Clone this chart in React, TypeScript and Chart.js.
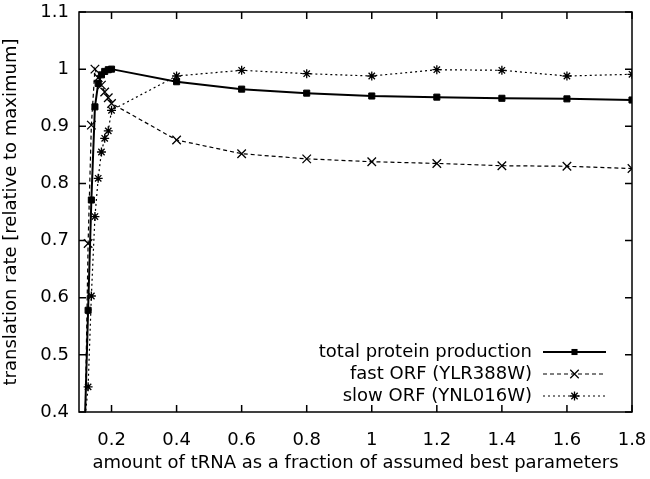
import React, { useEffect, useRef } from 'react';
import { Chart, registerables } from 'chart.js';

Chart.register(...registerables);

// ---- data ----
const xValues = [0.118, 0.128, 0.138, 0.149, 0.159, 0.169, 0.179, 0.19, 0.2, 0.4, 0.6, 0.8, 1.0, 1.2, 1.4, 1.6, 1.8];
const totalProduction = [0.38, 0.578, 0.771, 0.934, 0.975, 0.99, 0.996, 0.999, 1.0, 0.978, 0.965, 0.958, 0.953, 0.951, 0.949, 0.948, 0.946];
const fastOrf = [0.35, 0.695, 0.902, 1.0, 0.985, 0.972, 0.96, 0.95, 0.94, 0.876, 0.852, 0.843, 0.838, 0.835, 0.831, 0.83, 0.826];
const slowOrf = [0.385, 0.444, 0.603, 0.742, 0.809, 0.855, 0.879, 0.892, 0.928, 0.988, 0.998, 0.992, 0.988, 0.999, 0.998, 0.988, 0.991];
const seriesLabels = ['total protein production', 'fast ORF (YLR388W)', 'slow ORF (YNL016W)'];
const xTicks = [0.2, 0.4, 0.6, 0.8, 1.0, 1.2, 1.4, 1.6, 1.8];
const yTicks = [0.4, 0.5, 0.6, 0.7, 0.8, 0.9, 1.0, 1.1];
const xTitle = 'amount of tRNA as a fraction of assumed best parameters';
const yTitle = 'translation rate [relative to maximum]';

const FAMILY = '"DejaVu Sans", "Liberation Sans", sans-serif';
const FONT_SIZE = 18;

function drawMarker(ctx: CanvasRenderingContext2D, style: string, x: number, y: number, r: number) {
  ctx.beginPath();
  if (style === 'rect') {
    const s = r * Math.SQRT1_2;
    ctx.fillRect(x - s, y - s, 2 * s, 2 * s);
    return;
  }
  const d = r * Math.SQRT1_2;
  ctx.moveTo(x - d, y - d); ctx.lineTo(x + d, y + d);
  ctx.moveTo(x - d, y + d); ctx.lineTo(x + d, y - d);
  if (style === 'star') {
    ctx.moveTo(x - r, y); ctx.lineTo(x + r, y);
    ctx.moveTo(x, y - r); ctx.lineTo(x, y + r);
  }
  ctx.stroke();
}

const framePlugin = {
  id: 'gnuplotFrame',
  afterDraw(chart: any) {
    const { ctx, chartArea } = chart;
    const { left, right, top, bottom } = chartArea;
    const xs = chart.scales.x;
    const ys = chart.scales.y;
    const tl = 7;
    ctx.save();
    ctx.strokeStyle = '#000';
    ctx.lineWidth = 1.5;
    ctx.setLineDash([]);
    ctx.strokeRect(left, top, right - left, bottom - top);
    ctx.beginPath();
    xs.ticks.forEach((t: any) => {
      const px = xs.getPixelForValue(t.value);
      ctx.moveTo(px, bottom); ctx.lineTo(px, bottom - tl);
      ctx.moveTo(px, top); ctx.lineTo(px, top + tl);
    });
    ys.ticks.forEach((t: any) => {
      const py = ys.getPixelForValue(t.value);
      ctx.moveTo(left, py); ctx.lineTo(left + tl, py);
      ctx.moveTo(right, py); ctx.lineTo(right - tl, py);
    });
    ctx.stroke();

    // legend (inside the plot, bottom right, gnuplot style)
    ctx.font = `${FONT_SIZE}px ${FAMILY}`;
    ctx.textAlign = 'right';
    ctx.textBaseline = 'middle';
    ctx.fillStyle = '#000';
    const textRight = right - 100;
    const lineL = right - 89;
    const lineR = right - 26;
    const lineMid = (lineL + lineR) / 2;
    chart.data.datasets.forEach((ds: any, i: number) => {
      const y = bottom - 60 + i * 22;
      ctx.fillText(ds.label, textRight, y);
      ctx.lineWidth = ds.borderWidth;
      ctx.setLineDash(ds.borderDash || []);
      ctx.beginPath();
      ctx.moveTo(lineL, y); ctx.lineTo(lineR, y);
      ctx.stroke();
      ctx.setLineDash([]);
      ctx.lineWidth = ds.pointBorderWidth;
      drawMarker(ctx, ds.pointStyle, lineMid, y, ds.pointRadius);
    });
    ctx.restore();
  },
};

const fmt = (v: any) => String(+Number(v).toFixed(1));

export default function App() {
  const ref = useRef<HTMLCanvasElement>(null);
  useEffect(() => {
    const font = { family: FAMILY, size: FONT_SIZE };
    const chart = new Chart(ref.current as HTMLCanvasElement, {
      type: 'line',
      data: {
        datasets: [
          {
            label: seriesLabels[0],
            data: xValues.map((x, i) => ({ x, y: totalProduction[i] })),
            borderColor: '#000', backgroundColor: '#000', borderWidth: 2,
            pointStyle: 'rect', pointRadius: 4.3, pointBorderWidth: 1,
            pointBackgroundColor: '#000', pointBorderColor: '#000', clip: 0,
          },
          {
            label: seriesLabels[1],
            data: xValues.map((x, i) => ({ x, y: fastOrf[i] })),
            borderColor: '#000', backgroundColor: '#000', borderWidth: 1.2, borderDash: [4, 3],
            pointStyle: 'crossRot', pointRadius: 6, pointBorderWidth: 1.3,
            pointBorderColor: '#000', clip: 0,
          },
          {
            label: seriesLabels[2],
            data: xValues.map((x, i) => ({ x, y: slowOrf[i] })),
            borderColor: '#000', backgroundColor: '#000', borderWidth: 1.2, borderDash: [2, 3],
            pointStyle: 'star', pointRadius: 4.5, pointBorderWidth: 1.3,
            pointBorderColor: '#000', clip: 0,
          },
        ] as any,
      },
      options: {
        animation: false,
        responsive: false,
        layout: { padding: { top: 12, right: 18, left: 0, bottom: 0 } },
        plugins: { legend: { display: false }, tooltip: { enabled: false } },
        scales: {
          x: {
            type: 'linear', min: 0.1, max: 1.8,
            afterBuildTicks: (s: any) => { s.ticks = xTicks.map((v) => ({ value: v })); },
            afterFit: (s: any) => { s.height = 67; s.paddingLeft = 0; s.paddingRight = 0; },
            grid: { display: false }, border: { display: false },
            ticks: { color: '#000', font, padding: 10, maxRotation: 0, autoSkip: false, callback: fmt },
            title: { display: true, text: xTitle, color: '#000', font, padding: { top: 0, bottom: 5 } },
          },
          y: {
            type: 'linear', min: 0.4, max: 1.1,
            afterBuildTicks: (s: any) => { s.ticks = yTicks.map((v) => ({ value: v })); },
            afterFit: (s: any) => { s.width = 79; s.paddingTop = 0; s.paddingBottom = 0; },
            grid: { display: false }, border: { display: false },
            ticks: { color: '#000', font, padding: 2, autoSkip: false, callback: fmt },
            title: { display: true, text: yTitle, color: '#000', font, padding: { top: 1, bottom: 0 } },
          },
        },
      } as any,
      plugins: [framePlugin],
    });
    return () => chart.destroy();
  }, []);
  return (
    <div style={{ position: 'absolute', left: 0, top: 0, width: 650, height: 479, background: '#fff' }}>
      <canvas ref={ref} width={650} height={479} style={{ display: 'block' }} />
    </div>
  );
}
